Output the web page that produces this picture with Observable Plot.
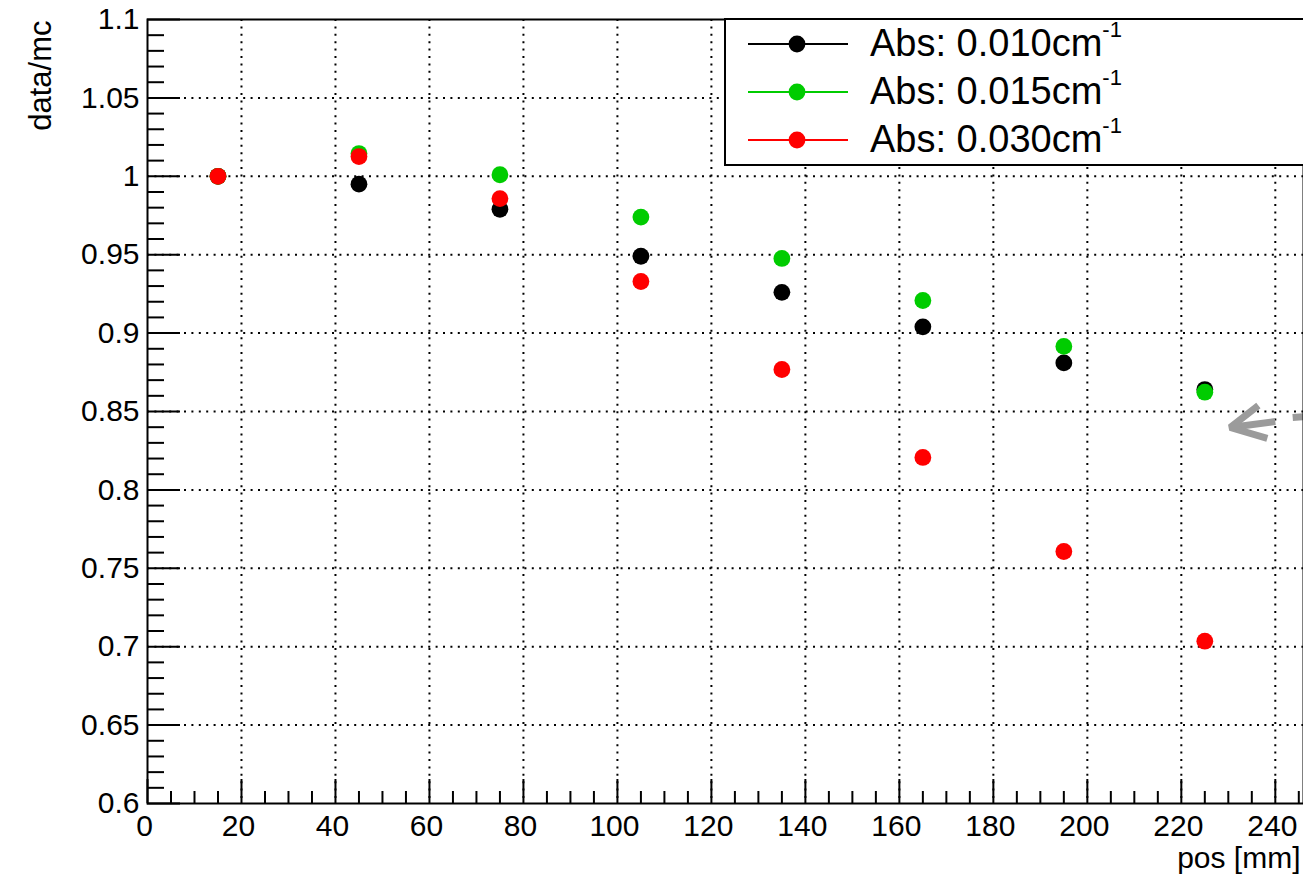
<!DOCTYPE html>
<html><head><meta charset="utf-8">
<script src="https://cdn.jsdelivr.net/npm/d3@7"></script>
<script src="https://cdn.jsdelivr.net/npm/@observablehq/plot@0.6"></script>
<style>
html,body{margin:0;padding:0;background:#fff;}
#wrap{position:relative;width:1303px;height:874px;overflow:hidden;font-family:"Liberation Sans",Arial,Helvetica,sans-serif;}
#wrap svg{position:absolute;left:0;top:0;}
</style></head><body><div id="wrap"></div>
<script>
// ---- data ----
const positions = [15, 45, 75, 105, 135, 165, 195, 225];
const abs010 = [1.000, 0.995, 0.979, 0.949, 0.926, 0.904, 0.881, 0.864];
const abs015 = [1.000, 1.0145, 1.001, 0.974, 0.9476, 0.9208, 0.8915, 0.8623];
const abs030 = [1.000, 1.0126, 0.9858, 0.9329, 0.8768, 0.8207, 0.7607, 0.7035];
const seriesNames = ["Abs: 0.010cm", "Abs: 0.015cm", "Abs: 0.030cm"];
const seriesSup = "-1";
const seriesColors = ["#000000", "#00cc00", "#ff0000"];

const xMajorTicks = [0, 20, 40, 60, 80, 100, 120, 140, 160, 180, 200, 220, 240];
const xTickLabels = ["0", "20", "40", "60", "80", "100", "120", "140", "160", "180", "200", "220", "240"];
const yMajorTicks = [0.6, 0.65, 0.7, 0.75, 0.8, 0.85, 0.9, 0.95, 1.0, 1.05, 1.1];
const yTickLabels = ["0.6", "0.65", "0.7", "0.75", "0.8", "0.85", "0.9", "0.95", "1", "1.05", "1.1"];
const xMinorTicks = d3.range(0, 246, 5).filter(v => v % 20 !== 0);
const yMinorTicks = d3.range(0, 51).map(i => 0.6 + i * 0.01).filter((v, i) => i % 5 !== 0);
const xLabel = "pos [mm]";
const yLabel = "data/mc";

// gray annotation arrow (partially cut at right edge)
const arrowShaft = [{x1: 240.0, y1: 0.8436, x2: 231.2, y2: 0.8401}];
const arrowWings = [{x: 236.4, y: 0.8538}, {x: 230.4, y: 0.8398}, {x: 238.3, y: 0.8328}];
const arrowTail = [{x1: 243.7, y1: 0.8462, x2: 250, y2: 0.8477}];

const rows = [];
[abs010, abs015, abs030].forEach((arr, s) => arr.forEach((v, i) => rows.push({series: s, pos: positions[i], val: v})));

const W = 1303, H = 874, ML = 147, MR = 0, MT = 19, MB = 71;
const frameW = W - ML - MR, frameH = H - MT - MB;
const FS = 30;

const chart = Plot.plot({
  width: W, height: H,
  marginLeft: ML, marginRight: MR, marginTop: MT, marginBottom: MB,
  style: {fontFamily: '"Liberation Sans", Arial, Helvetica, sans-serif', background: "white", overflow: "visible"},
  x: {domain: [0, 246], axis: null},
  y: {domain: [0.6, 1.1], axis: null},
  marks: [
    // dotted grid
    Plot.ruleX(xMajorTicks.filter(v => v > 0), {stroke: "black", strokeWidth: 2, strokeDasharray: "2,5.4"}),
    Plot.ruleY(yMajorTicks.filter(v => v > 0.6 && v < 1.1), {stroke: "black", strokeWidth: 2, strokeDasharray: "2,5.4"}),
    // ticks (inside)
    Plot.tickY(yMajorTicks, {y: d => d, stroke: "black", strokeWidth: 2, insetRight: frameW - 33}),
    Plot.tickY(yMinorTicks, {y: d => d, stroke: "black", strokeWidth: 2, insetRight: frameW - 17}),
    Plot.tickX(xMajorTicks, {x: d => d, stroke: "black", strokeWidth: 2, insetTop: frameH - 24}),
    Plot.tickX(xMinorTicks, {x: d => d, stroke: "black", strokeWidth: 2, insetTop: frameH - 12}),
    // tick labels
    Plot.text(yMajorTicks, {x: () => 0, y: d => d, text: (d, i) => yTickLabels[i], textAnchor: "end", dx: -8, fontSize: FS, fill: "black"}),
    Plot.text(xMajorTicks, {x: d => d, y: () => 0.6, text: (d, i) => xTickLabels[i], lineAnchor: "top", dy: 11, dx: -3, fontSize: FS, fill: "black"}),
    // axis titles
    Plot.text([xLabel], {frameAnchor: "bottom-right", text: d => d, textAnchor: "end", lineAnchor: "bottom", dx: -3, dy: 64, fontSize: FS, fill: "black"}),
    Plot.text([yLabel], {frameAnchor: "top-left", text: d => d, textAnchor: "end", lineAnchor: "bottom", rotate: -90, dx: -97, dy: 1, fontSize: 31, fill: "black"}),
    // data points
    Plot.dot(rows.filter(r => r.series === 0), {x: "pos", y: "val", r: 8.4, fill: seriesColors[0], stroke: "none"}),
    Plot.dot(rows.filter(r => r.series === 1), {x: "pos", y: "val", r: 8.4, fill: seriesColors[1], stroke: "none"}),
    Plot.dot(rows.filter(r => r.series === 2), {x: "pos", y: "val", r: 8.4, fill: seriesColors[2], stroke: "none"}),
    // annotation arrow
    Plot.link(arrowShaft, {x1: "x1", y1: "y1", x2: "x2", y2: "y2", stroke: "#9b9b9b", strokeWidth: 7, strokeLinecap: "butt"}),
    Plot.line(arrowWings, {x: "x", y: "y", stroke: "#9b9b9b", strokeWidth: 7, strokeLinejoin: "miter", strokeLinecap: "butt", curve: "linear"}),
    Plot.link(arrowTail, {x1: "x1", y1: "y1", x2: "x2", y2: "y2", stroke: "#9b9b9b", strokeWidth: 7, strokeLinecap: "butt"}),
    // frame
    Plot.frame({stroke: "black", strokeWidth: 2})
  ]
});
const wrap = document.getElementById("wrap");
wrap.appendChild(chart);

// legend overlay
const leg = d3.select(wrap).append("svg").attr("width", W).attr("height", H)
  .style("pointer-events", "none")
  .attr("font-family", '"Liberation Sans", Arial, Helvetica, sans-serif');
leg.append("rect").attr("x", 725).attr("y", 19).attr("width", 620).attr("height", 146)
  .attr("fill", "white").attr("stroke", "black").attr("stroke-width", 2);
const rowY = [44, 92, 140];
seriesNames.forEach((name, i) => {
  const g = leg.append("g");
  g.append("line").attr("x1", 748).attr("x2", 848).attr("y1", rowY[i]).attr("y2", rowY[i])
    .attr("stroke", seriesColors[i]).attr("stroke-width", 2.2);
  g.append("circle").attr("cx", 797).attr("cy", rowY[i]).attr("r", 8.4).attr("fill", seriesColors[i]);
  const t = g.append("text").attr("x", 870).attr("y", rowY[i] + 12).attr("font-size", 38).attr("fill", "black");
  t.append("tspan").text(name);
  t.append("tspan").attr("font-size", 22).attr("dy", -19).text(seriesSup);
});
</script>
</body></html>
